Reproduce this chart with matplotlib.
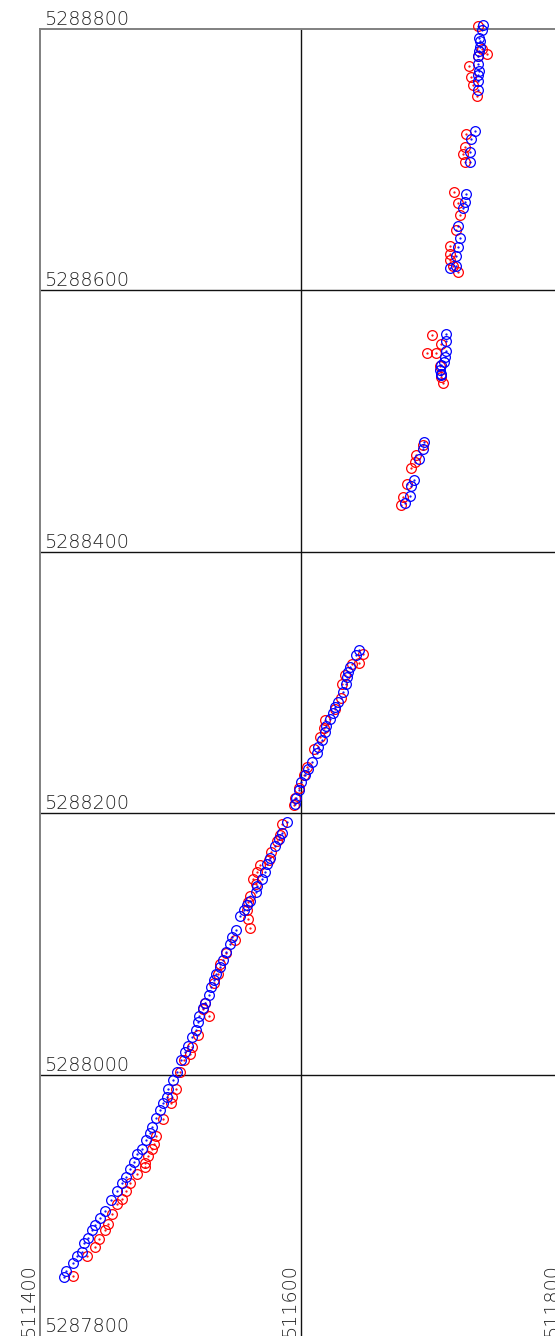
import matplotlib
matplotlib.use("Agg")
import matplotlib.pyplot as plt
import matplotlib.transforms as mtransforms

# --- Données : coordonnées (est, nord) ---
blue_e = [511739, 511738, 511736, 511737, 511737, 511736, 511735, 511735, 511736, 511735, 511735, 511735,
          511733, 511730, 511729, 511729,
          511726, 511725, 511724,
          511720, 511721, 511720, 511718, 511718, 511714,
          511711, 511711, 511711, 511710, 511709, 511707, 511706, 511707, 511707,
          511694, 511693, 511690, 511686, 511684, 511683, 511679,
          511644, 511642, 511637, 511636, 511635, 511634, 511632, 511628, 511626, 511624, 511622, 511619,
          511618, 511616, 511613, 511612, 511608, 511605, 511603, 511600, 511598, 511596, 511595,
          511589, 511585, 511583, 511580, 511576, 511574, 511572, 511570, 511566, 511565, 511561, 511558,
          511556, 511553, 511550, 511547, 511545, 511542, 511540, 511538, 511535, 511533, 511531, 511529,
          511526, 511525, 511522, 511521, 511519, 511516, 511513, 511511, 511508,
          511505, 511502, 511498, 511497, 511494, 511492, 511489, 511486, 511484, 511481, 511478, 511474,
          511472, 511469, 511466, 511463, 511459, 511454, 511450, 511446, 511442, 511440, 511437, 511434,
          511432, 511428, 511425, 511420, 511418]
blue_n = [5288803, 5288799, 5288793, 5288791, 5288786, 5288783, 5288779, 5288773, 5288768, 5288765, 5288760, 5288753,
          5288722, 5288716, 5288706, 5288698,
          5288674, 5288668, 5288663,
          5288649, 5288640, 5288633, 5288626, 5288619, 5288617,
          5288567, 5288561, 5288554, 5288549, 5288545, 5288543, 5288539, 5288536, 5288535,
          5288484, 5288479, 5288471, 5288455, 5288450, 5288443, 5288437,
          5288325, 5288321, 5288312, 5288308, 5288304, 5288299, 5288293, 5288285, 5288281, 5288277, 5288272, 5288267,
          5288262, 5288256, 5288251, 5288246, 5288239, 5288234, 5288229, 5288224, 5288218, 5288212, 5288207,
          5288193, 5288185, 5288180, 5288175, 5288166, 5288161, 5288155, 5288150, 5288144, 5288140, 5288133, 5288130,
          5288126, 5288121, 5288111, 5288105, 5288100, 5288094, 5288088, 5288082, 5288077, 5288072, 5288067, 5288061,
          5288055, 5288051, 5288045, 5288040, 5288034, 5288029, 5288022, 5288017, 5288011,
          5288002, 5287996, 5287989, 5287983, 5287978, 5287973, 5287967, 5287960, 5287955, 5287950, 5287943, 5287939,
          5287933, 5287928, 5287922, 5287917, 5287911, 5287904, 5287896, 5287890, 5287885, 5287881, 5287875, 5287871,
          5287864, 5287861, 5287856, 5287850, 5287845]

red_e = [511735, 511738, 511742, 511735, 511728, 511730, 511731, 511734,
         511726, 511725, 511724, 511725,
         511717, 511720, 511721,
         511718, 511714, 511714, 511714, 511716, 511720,
         511700, 511707, 511696, 511703, 511706, 511707, 511708,
         511693, 511688, 511687, 511684, 511681, 511678, 511676,
         511647, 511644, 511639, 511633, 511631, 511630, 511626, 511618, 511617, 511614, 511610, 511604,
         511602, 511598, 511595, 511594,
         511585, 511584, 511581, 511577, 511575, 511568, 511566, 511563, 511565, 511561, 511559, 511558,
         511559, 511561, 511549, 511542, 511538, 511536, 511533, 511526, 511525,
         511529, 511521, 511516, 511515, 511510, 511507,
         511504, 511501, 511500, 511494, 511489, 511487, 511486, 511483, 511480, 511480, 511474, 511469,
         511466, 511463, 511459, 511455, 511452, 511450, 511445, 511442, 511436, 511425]
red_n = [5288802, 5288785, 5288781, 5288779, 5288772, 5288763, 5288757, 5288749,
         5288720, 5288710, 5288704, 5288698,
         5288675, 5288667, 5288658,
         5288646, 5288634, 5288628, 5288623, 5288619, 5288614,
         5288566, 5288559, 5288552, 5288552, 5288542, 5288534, 5288529,
         5288482, 5288474, 5288469, 5288464, 5288452, 5288442, 5288436,
         5288322, 5288315, 5288314, 5288306, 5288299, 5288288, 5288280, 5288271, 5288265, 5288258, 5288249, 5288235,
         5288229, 5288219, 5288212, 5288206,
         5288192, 5288183, 5288179, 5288170, 5288164, 5288160, 5288155, 5288150, 5288146, 5288137, 5288132, 5288126,
         5288119, 5288112, 5288103, 5288093, 5288085, 5288077, 5288070, 5288055, 5288050,
         5288045, 5288030, 5288021, 5288016, 5288011, 5288002,
         5287989, 5287983, 5287978, 5287966, 5287953, 5287947, 5287943, 5287938, 5287932, 5287929, 5287924, 5287917,
         5287911, 5287905, 5287901, 5287893, 5287886, 5287881, 5287874, 5287868, 5287861, 5287846]

x_ticks = [511400, 511600, 511800]
y_ticks = [5287800, 5288000, 5288200, 5288400, 5288600, 5288800]

fig = plt.figure(figsize=(5.55, 13.36), dpi=100)
ax = fig.add_axes([40 / 555, 0, 515 / 555, 1307 / 1336])
ax.set_xlim(511400, 511400 + 515 / 1.307)
ax.set_ylim(5287800, 5288800)
ax.set_xticks([])
ax.set_yticks([])
for s in ["right", "bottom"]:
    ax.spines[s].set_visible(False)
for s in ["left", "top"]:
    ax.spines[s].set_color("#808080")
    ax.spines[s].set_linewidth(1.4)

# --- Grille ---
for yv in y_ticks[1:-1]:
    ax.axhline(yv, color="#111111", lw=1.0, zorder=1)
for xv in x_ticks[1:-1]:
    ax.axvline(xv, color="#111111", lw=1.0, zorder=1)

# --- Étiquettes ---
font = dict(family="DejaVu Sans", fontsize=13.8, color="#222222", fontweight="light")
up = mtransforms.offset_copy(ax.transData, fig=fig, x=4, y=0, units="dots")
for yv in y_ticks:
    ax.text(x_ticks[0], yv, str(yv), transform=up, ha="left", va="bottom", clip_on=False, **font)
left = mtransforms.offset_copy(ax.transData, fig=fig, x=-2, y=-1, units="dots")
for xv in x_ticks:
    ax.text(xv, y_ticks[0], str(xv), transform=left, rotation=90, ha="right", va="bottom",
            clip_on=False, **font)

# --- Points ---
ax.plot(red_e, red_n, "o", mfc="none", mec="#ff0000", ms=7, mew=0.9, clip_on=False, zorder=3)
ax.plot(red_e, red_n, ".", color="#ff0000", ms=1.2, clip_on=False, zorder=3)
ax.plot(blue_e, blue_n, "o", mfc="none", mec="#0000ff", ms=7, mew=0.9, clip_on=False, zorder=4)
ax.plot(blue_e, blue_n, ".", color="#0000ff", ms=1.2, clip_on=False, zorder=4)

fig.savefig("out.png", dpi=100)
